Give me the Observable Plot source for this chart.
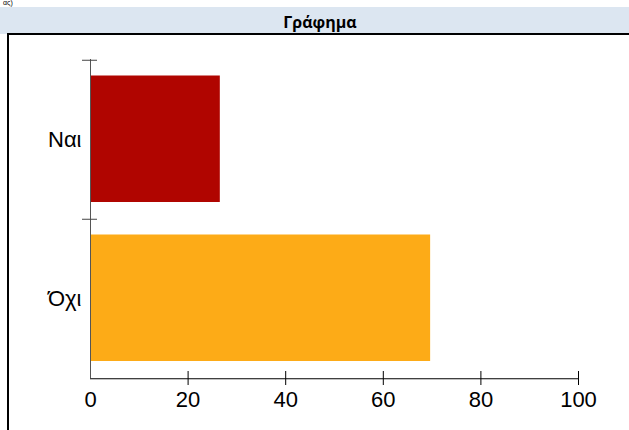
<!DOCTYPE html>
<html>
<head>
<meta charset="utf-8">
<script src="https://cdn.jsdelivr.net/npm/d3@7"></script>
<script src="https://cdn.jsdelivr.net/npm/@observablehq/plot@0.6"></script>
<style>
  html, body { margin: 0; padding: 0; width: 629px; height: 430px; overflow: hidden; background: #fff; }
  #cut { position: absolute; left: 3px; top: -1px; font: 7px "Liberation Sans", sans-serif; line-height: 8px; color: #000; }
  #header { position: absolute; left: 0; top: 7px; width: 629px; height: 27px; background: #dce6f1; }
  #title { position: absolute; left: 0; top: 12px; width: 640px; text-align: center; font: bold 16px "Open Sans", sans-serif; color: #000; line-height: 20px; }
  #box { position: absolute; left: 7px; top: 33px; width: 700px; height: 500px; border: 2px solid #000; background: #fff; }
  #chart { position: absolute; left: 0; top: 0; }
</style>
</head>
<body>
<div id="cut">ας)</div>
<div id="header"></div>
<div id="box"></div>
<div id="title">Γράφημα</div>
<div id="chart"></div>
<script>
const categories = ["Ναι", "Όχι"];
const values = [26.6, 69.7];
const colors = ["#b00500", "#fdab17"];
const xTicks = [0, 20, 40, 60, 80, 100];

const data = categories.map((c, i) => ({category: c, value: values[i], color: colors[i]}));

const H = 430, MT = 59, MB = 52;
const band = (H - MT - MB) / categories.length;

const chart = Plot.plot({
  width: 629,
  height: H,
  marginTop: MT,
  marginBottom: MB,
  marginLeft: 90,
  marginRight: 51,
  style: {background: "transparent", fontFamily: "Liberation Sans, Arial, sans-serif", fontSize: "22px", overflow: "visible"},
  x: {domain: [0, 100], ticks: xTicks, label: null},
  y: {domain: categories, padding: 0, label: null},
  marks: [
    Plot.barX(data, {x: "value", y: "category", fill: "color", insetTop: 15.5, insetBottom: 17}),
    Plot.ruleX([0], {stroke: "#555", strokeWidth: 1}),
    Plot.ruleY([categories[categories.length - 1]], {dy: band / 2, stroke: "#000", strokeWidth: 1}),
    Plot.axisY({tickSize: 15, dx: 7, dy: -band / 2, text: null, label: null, stroke: "#444", strokeOpacity: 1}),
    Plot.axisY({tickSize: 0, tickPadding: 9, fontSize: 22, fill: "#000", label: null}),
    Plot.axisX({ticks: xTicks.filter(d => d > 0), tickSize: 14, dy: -7, text: null, label: null, stroke: "#000", strokeOpacity: 1}),
    Plot.axisX({ticks: xTicks, tickSize: 0, tickPadding: 13, fontSize: 22, fill: "#000", label: null})
  ]
});
document.getElementById("chart").appendChild(chart);
</script>
</body>
</html>
